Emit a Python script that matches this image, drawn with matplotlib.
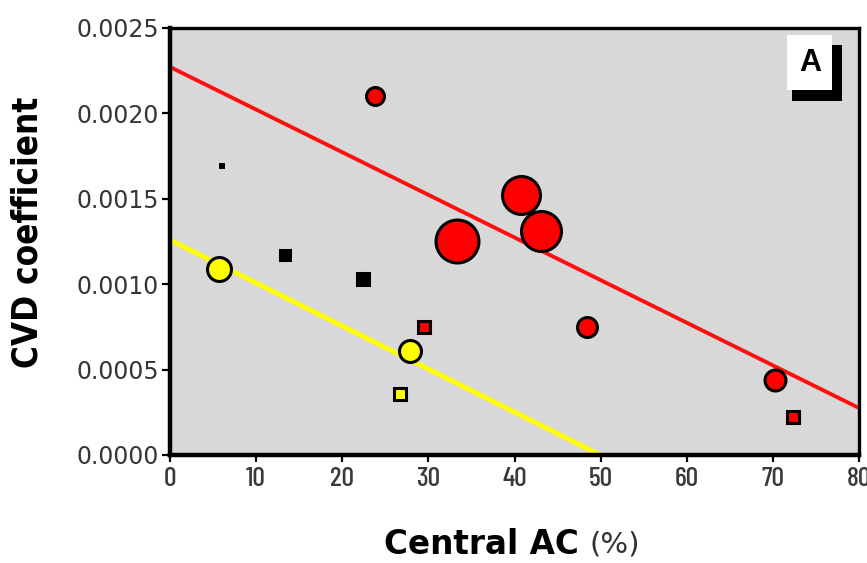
import matplotlib
matplotlib.use("Agg")
import matplotlib.pyplot as plt
from matplotlib.patches import Rectangle
import numpy as np

# Data
central_ac = [6.0, 5.7, 23.8, 13.3, 22.4, 33.3, 40.8, 43.1, 29.5, 27.9, 26.7, 48.4, 70.2, 72.3]
cvd_coef = [0.00169, 0.00109, 0.00210, 0.00117, 0.00103, 0.00125, 0.00152, 0.00131,
            0.00075, 0.00061, 0.00036, 0.00075, 0.00044, 0.00022]
groups = ["black", "yellow", "red", "black", "black", "red", "red", "red",
          "red", "yellow", "yellow", "red", "red", "red"]
bubble = [6, 27, 21, 13, 15, 46, 41, 43, 16, 25, 16, 23, 24, 16]

# Regression lines (intercept, slope) and extents
red_line = (0.002272, -0.00002496)
red_range = [0, 80]
yellow_line = (0.001259, -0.0000252)
yellow_range = [0, 50]

xticks = [0, 10, 20, 30, 40, 50, 60, 70, 80]
yticks = [0.0, 0.0005, 0.0010, 0.0015, 0.0020, 0.0025]
ytick_labels = ["0.0000", "0.0005", "0.0010", "0.0015", "0.0020", "0.0025"]

W, H = 867, 563
fig = plt.figure(figsize=(W / 100, H / 100), dpi=100)
ax = fig.add_axes([170 / W, (H - 455) / H, (859 - 170) / W, (455 - 28) / H])
ax.set_facecolor("#d8d8d8")

colmap = {"black": "black", "yellow": "#ffff00", "red": "#ff0000"}

# lines
xr = np.array(red_range, dtype=float)
ax.plot(xr, red_line[0] + red_line[1] * xr, color="#ff1010", lw=2.8, zorder=2,
        solid_capstyle="butt")
xy = np.array(yellow_range, dtype=float)
ax.plot(xy, yellow_line[0] + yellow_line[1] * xy, color="#ffff00", lw=3.4, zorder=2,
        solid_capstyle="butt")

mew = 2.2
for x, y, g, d in zip(central_ac, cvd_coef, groups, bubble):
    if d <= 8:
        ax.plot(x, y, marker="s", ms=d * 0.72, mfc="black", mec="black", mew=0,
                zorder=3, ls="none")
        continue
    ms = max(d * 0.72 - mew, 1.5)
    marker = "s" if d <= 16 else "o"
    ax.plot(x, y, marker=marker, ms=ms, mfc=colmap[g], mec="black", mew=mew,
            zorder=3, ls="none")

ax.set_xlim(0, 80)
ax.set_ylim(0, 0.0025)
ax.set_xticks(xticks)
ax.set_xticklabels([str(t) for t in xticks])
ax.set_yticks(yticks)
ax.set_yticklabels(ytick_labels)

cond = ["Barlow Condensed", "DejaVu Sans"]
for lab in ax.get_xticklabels():
    lab.set_fontfamily(cond)
    lab.set_fontsize(20)
    lab.set_fontweight(500)
    lab.set_color("#3a3a3a")
for lab in ax.get_yticklabels():
    lab.set_fontfamily(["DejaVu Sans"])
    lab.set_fontsize(17)
    lab.set_color("#353535")

ax.tick_params(axis="x", direction="out", length=5, width=1.6, pad=4, color="black")
ax.tick_params(axis="y", direction="out", length=6, width=1.6, pad=2, color="black")

for side in ["left", "bottom"]:
    ax.spines[side].set_linewidth(3.2)
for side in ["top", "right"]:
    ax.spines[side].set_linewidth(2.4)
for s in ax.spines.values():
    s.set_color("black")
    s.set_zorder(5)

fig.text(28 / W, 1 - 232 / H, "CVD coefficient", rotation=90, ha="center", va="center",
         fontsize=25, fontweight="bold", fontstretch="condensed",
         family=["DejaVu Sans"], color="black")
fig.text(481 / W, 1 - 545 / H, "Central AC", ha="center", va="center",
         fontsize=23.5, fontweight="bold", family=["DejaVu Sans"], color="black")
fig.text(615 / W, 1 - 545 / H, "(%)", ha="center", va="center",
         fontsize=21, family=["DejaVu Sans"], color="#333333")

# Panel label "A" with L-shaped shadow
def px_rect(x0, y0, x1, y1, color, z):
    r = Rectangle((x0 / W, 1 - y1 / H), (x1 - x0) / W, (y1 - y0) / H,
                  transform=fig.transFigure, facecolor=color, edgecolor="none", zorder=z)
    fig.add_artist(r)

px_rect(792, 45, 842, 101, "black", 10)
px_rect(787, 35, 832, 90, "white", 11)
fig.text(810 / W, 1 - 63 / H, "A", ha="center", va="center", fontsize=22,
         fontweight="bold", family=["Liberation Sans", "DejaVu Sans"], color="black",
         zorder=12)

fig.savefig("out.png", dpi=100)
